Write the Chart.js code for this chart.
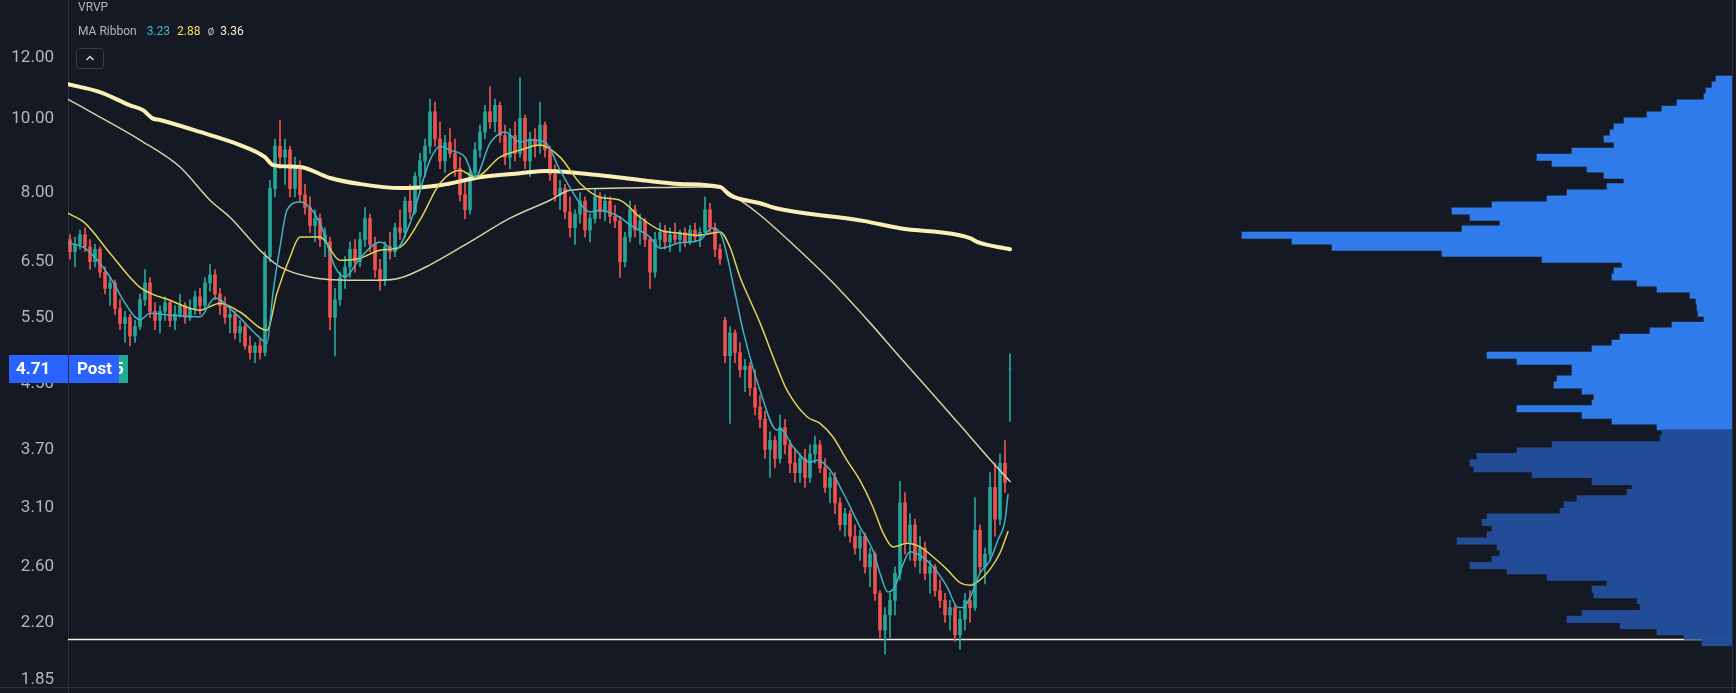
<!DOCTYPE html>
<html>
<head>
<meta charset="utf-8">
<title>VRVP / MA Ribbon</title>
<script src="https://cdn.jsdelivr.net/npm/chart.js@4.4.0/dist/chart.umd.min.js"></script>
<style>
    html, body { margin: 0; padding: 0; background: #151924; }
    canvas { display: block; }
</style>
</head>
<body>
<canvas id="price-chart" width="1736" height="693"></canvas>
<script>
// 价格轴刻度
const yTicks = [1.85, 2.2, 2.6, 3.1, 3.7, 4.5, 5.5, 6.5, 8, 10, 12];

// K线 [open, high, low, close]
const candles = [
    [6.95, 7.05, 6.55, 6.70], [6.70, 7.00, 6.40, 6.85], [6.85, 7.15, 6.75, 7.05], [7.05, 7.20, 6.70, 6.80],
    [6.80, 6.95, 6.35, 6.50], [6.50, 6.85, 6.40, 6.75], [6.75, 6.80, 6.20, 6.30], [6.30, 6.40, 5.90, 6.00],
    [6.00, 6.20, 5.70, 6.10], [6.10, 6.15, 5.55, 5.65], [5.65, 5.80, 5.30, 5.40], [5.40, 5.60, 5.10, 5.50],
    [5.50, 5.55, 5.05, 5.20], [5.20, 5.45, 5.10, 5.35], [5.35, 5.90, 5.30, 5.80], [5.80, 6.35, 5.70, 6.10],
    [6.10, 6.20, 5.50, 5.60], [5.60, 5.75, 5.30, 5.45], [5.45, 5.70, 5.25, 5.60], [5.60, 5.85, 5.45, 5.75],
    [5.75, 5.80, 5.35, 5.45], [5.45, 5.70, 5.30, 5.55], [5.55, 5.90, 5.50, 5.70], [5.70, 5.75, 5.40, 5.50],
    [5.50, 5.80, 5.45, 5.65], [5.65, 5.95, 5.55, 5.85], [5.85, 6.00, 5.55, 5.70], [5.70, 6.20, 5.65, 6.10],
    [6.10, 6.45, 5.95, 6.25], [6.25, 6.35, 5.80, 5.90], [5.90, 6.00, 5.55, 5.70], [5.70, 5.85, 5.40, 5.50],
    [5.50, 5.65, 5.25, 5.55], [5.55, 5.60, 5.15, 5.25], [5.25, 5.45, 5.10, 5.35], [5.35, 5.40, 5.00, 5.05],
    [5.05, 5.20, 4.85, 4.95], [4.95, 5.10, 4.80, 5.05], [5.05, 5.15, 4.85, 4.95], [4.95, 6.70, 4.90, 6.60],
    [6.60, 8.30, 6.50, 8.10], [8.10, 9.40, 7.90, 9.20], [9.20, 9.95, 8.60, 8.90], [8.90, 9.40, 8.20, 9.10],
    [9.10, 9.20, 7.90, 8.10], [8.10, 8.90, 7.90, 8.60], [8.60, 8.80, 7.80, 7.95], [7.95, 8.20, 7.50, 7.65],
    [7.65, 7.90, 7.10, 7.25], [7.25, 7.60, 6.90, 7.40], [7.40, 7.50, 6.80, 6.95], [6.95, 7.20, 6.60, 7.05],
    [6.90, 7.00, 5.30, 5.50], [5.50, 6.00, 4.90, 5.80], [5.80, 6.30, 5.70, 6.20], [6.20, 6.60, 6.00, 6.40],
    [6.40, 6.90, 6.20, 6.75], [6.75, 6.95, 6.30, 6.50], [6.50, 7.10, 6.40, 6.95], [6.95, 7.65, 6.80, 7.40],
    [7.40, 7.50, 6.70, 6.85], [6.85, 7.00, 6.20, 6.35], [6.35, 6.55, 5.97, 6.15], [6.15, 6.90, 6.05, 6.80],
    [6.80, 7.10, 6.55, 6.70], [6.70, 7.30, 6.60, 7.20], [7.20, 7.60, 6.95, 7.10], [7.10, 7.90, 7.00, 7.80],
    [7.80, 8.20, 7.40, 7.55], [7.55, 8.50, 7.50, 8.40], [8.40, 9.00, 8.10, 8.80], [8.80, 9.40, 8.40, 9.20],
    [9.20, 10.60, 9.00, 10.20], [10.20, 10.50, 9.20, 9.40], [9.40, 9.90, 8.60, 8.80], [8.80, 9.50, 8.50, 9.30],
    [9.30, 9.70, 8.90, 9.00], [9.00, 9.40, 8.40, 8.60], [8.60, 8.90, 7.80, 7.95], [7.95, 8.30, 7.40, 7.60],
    [7.60, 8.60, 7.50, 8.50], [8.50, 9.30, 8.40, 9.10], [9.10, 9.80, 8.90, 9.60], [9.60, 10.40, 9.40, 10.20],
    [10.20, 11.00, 9.70, 9.90], [9.90, 10.60, 9.60, 10.40], [10.40, 10.50, 9.30, 9.50], [9.50, 9.80, 8.70, 8.90],
    [8.90, 9.70, 8.60, 9.50], [9.50, 9.90, 8.80, 9.00], [9.00, 11.30, 8.90, 10.00], [10.00, 10.10, 8.60, 8.80],
    [8.80, 9.60, 8.40, 9.40], [9.40, 9.70, 8.90, 9.20], [9.20, 10.50, 9.00, 9.80], [9.80, 9.90, 8.90, 9.10],
    [9.10, 9.20, 8.30, 8.45], [8.45, 8.70, 7.80, 7.95], [7.95, 8.30, 7.60, 8.10], [8.10, 8.20, 7.40, 7.55],
    [7.55, 7.90, 7.00, 7.20], [7.20, 7.60, 6.85, 7.50], [7.50, 8.00, 7.30, 7.80], [7.80, 7.90, 7.00, 7.15],
    [7.15, 7.50, 6.90, 7.40], [7.40, 8.10, 7.30, 7.90], [7.90, 8.00, 7.40, 7.55], [7.55, 7.95, 7.35, 7.80],
    [7.80, 7.90, 7.30, 7.45], [7.45, 7.70, 7.20, 7.35], [7.35, 7.45, 6.20, 6.50], [6.50, 7.10, 6.40, 7.00],
    [7.00, 7.80, 6.90, 7.60], [7.60, 7.70, 7.00, 7.15], [7.15, 7.50, 6.85, 7.35], [7.35, 7.40, 6.80, 6.95],
    [6.95, 7.00, 6.00, 6.30], [6.30, 7.10, 6.20, 6.95], [6.95, 7.30, 6.80, 7.10], [7.10, 7.25, 6.75, 6.90],
    [6.90, 7.20, 6.70, 7.05], [7.05, 7.30, 6.85, 6.95], [6.95, 7.15, 6.70, 7.10], [7.10, 7.20, 6.80, 6.90],
    [6.90, 7.25, 6.85, 7.15], [7.15, 7.30, 6.90, 7.00], [7.00, 7.20, 6.80, 7.10], [7.10, 7.90, 7.05, 7.60],
    [7.60, 7.75, 7.10, 7.20], [7.20, 7.30, 6.60, 6.75], [6.75, 6.85, 6.45, 6.55], [5.45, 5.50, 4.80, 4.90],
    [4.90, 5.35, 4.00, 5.25], [5.25, 5.30, 4.80, 4.95], [4.95, 5.10, 4.60, 4.70], [4.70, 4.85, 4.40, 4.75],
    [4.75, 4.80, 4.35, 4.45], [4.45, 4.70, 4.10, 4.20], [4.20, 4.35, 3.95, 4.05], [4.05, 4.15, 3.60, 3.70],
    [3.70, 3.90, 3.40, 3.80], [3.80, 3.85, 3.50, 3.60], [3.60, 4.10, 3.55, 3.95], [3.95, 4.05, 3.65, 3.75],
    [3.75, 3.80, 3.45, 3.55], [3.55, 3.70, 3.35, 3.45], [3.45, 3.65, 3.35, 3.60], [3.60, 3.70, 3.30, 3.40],
    [3.40, 3.75, 3.35, 3.65], [3.65, 3.85, 3.55, 3.75], [3.75, 3.80, 3.45, 3.50], [3.50, 3.60, 3.25, 3.30],
    [3.30, 3.45, 3.15, 3.40], [3.40, 3.45, 3.05, 3.15], [3.15, 3.20, 2.90, 2.95], [2.95, 3.10, 2.85, 3.05],
    [3.05, 3.08, 2.80, 2.85], [2.85, 2.95, 2.70, 2.75], [2.75, 2.90, 2.65, 2.85], [2.85, 2.88, 2.55, 2.60],
    [2.60, 2.75, 2.45, 2.70], [2.70, 2.72, 2.35, 2.40], [2.40, 2.42, 2.10, 2.15], [2.15, 2.30, 2.00, 2.25],
    [2.25, 2.40, 2.10, 2.35], [2.35, 2.60, 2.25, 2.55], [2.55, 3.36, 2.50, 3.15], [3.15, 3.25, 2.70, 2.80],
    [2.80, 3.05, 2.65, 2.95], [2.95, 3.00, 2.60, 2.65], [2.65, 2.85, 2.55, 2.75], [2.75, 2.80, 2.50, 2.55],
    [2.55, 2.65, 2.40, 2.60], [2.60, 2.62, 2.38, 2.42], [2.42, 2.50, 2.30, 2.35], [2.35, 2.40, 2.20, 2.25],
    [2.25, 2.35, 2.15, 2.30], [2.30, 2.32, 2.08, 2.12], [2.12, 2.28, 2.03, 2.22], [2.22, 2.40, 2.15, 2.35],
    [2.35, 2.42, 2.20, 2.30], [2.30, 3.20, 2.28, 2.90], [2.90, 2.95, 2.55, 2.60], [2.60, 2.75, 2.47, 2.70],
    [2.70, 3.45, 2.65, 3.30], [3.30, 3.55, 2.85, 3.00], [3.00, 3.65, 2.95, 3.55], [3.55, 3.80, 3.25, 3.35],
    [4.71, 4.93, 4.02, 4.71]
];

// 均线带 [K线序号, 价格]
const maFast = [
    [-0.4, 6.88], [3, 6.77], [8, 6.21], [11, 5.74], [14, 5.46], [16, 5.57], [20, 5.54], [26, 5.51],
    [29, 5.83], [33, 5.57], [38, 5.17], [39.4, 5.09], [40.6, 5.92], [42, 6.79], [43.4, 7.59], [46, 7.78],
    [50, 7.30], [53, 6.40], [55, 6.21], [58, 6.57], [62, 6.90], [65, 6.73], [68, 7.30], [72, 8.82],
    [74, 9.20], [76, 9.09], [79, 8.90], [81, 8.38], [84, 9.28], [87, 9.60], [90, 9.31], [92, 9.37],
    [95, 9.31], [98, 8.56], [102, 7.75], [104, 7.55], [106, 7.59], [110, 7.43], [112, 7.26], [116, 7.00],
    [118, 6.77], [122, 6.88], [126, 6.94], [128.4, 7.19], [130.4, 7.00], [133, 5.92], [134.6, 5.29],
    [138, 4.42], [141.4, 3.92], [142, 3.94], [144.6, 3.73], [148, 3.56], [149.4, 3.58], [152, 3.48],
    [154.6, 3.25], [158, 2.93], [160.6, 2.73], [162, 2.55], [163.6, 2.41], [165, 2.45], [166.4, 2.60],
    [168, 2.72], [170, 2.69], [172.6, 2.60], [175.4, 2.45], [177.6, 2.30], [178.6, 2.30], [180, 2.37],
    [182, 2.55], [184, 2.65], [185.6, 2.82], [187, 2.99], [187.6, 3.23]
];
const maMid = [
    [-0.4, 7.52], [3, 7.30], [8, 6.67], [14, 6.02], [20, 5.79], [26, 5.62], [30, 5.74], [34, 5.59],
    [39.4, 5.29], [41.4, 5.92], [44, 6.59], [46, 7.00], [50, 7.00], [54, 6.53], [58, 6.57], [62, 6.73],
    [66, 6.79], [70, 7.37], [74, 8.23], [78, 8.56], [81, 8.38], [86, 8.90], [90, 9.09], [94, 9.23],
    [98, 8.90], [102, 8.23], [106, 7.89], [110, 7.82], [114, 7.43], [118, 7.15], [122, 7.08], [126, 7.04],
    [130, 7.11], [132, 6.79], [134, 6.21], [136, 5.79], [138, 5.41], [141.4, 4.74], [143.4, 4.42],
    [147.4, 4.08], [150, 4.00], [152.6, 3.84], [155.4, 3.58], [158, 3.37], [160.6, 3.11], [162.6, 2.88],
    [164.6, 2.76], [167.4, 2.79], [170, 2.76], [172.6, 2.68], [175.4, 2.58], [178, 2.48], [180, 2.46],
    [182, 2.50], [184, 2.58], [186, 2.71], [187.6, 2.89]
];
const maSlow = [
    [-0.4, 10.59], [6, 10.04], [14, 9.37], [22, 8.64], [28, 7.82], [32, 7.43], [38, 6.73], [42, 6.40],
    [48, 6.21], [56, 6.15], [62, 6.15], [66, 6.19], [72, 6.44], [80, 6.90], [88, 7.41], [96, 7.82],
    [100, 8.06], [110, 8.11], [126, 8.14], [130, 8.11], [134, 7.82], [138, 7.48], [145.2, 6.79],
    [152.4, 6.12], [160, 5.41], [166, 4.88], [172, 4.41], [178, 3.98], [184, 3.59], [188, 3.36]
];
const maLong = [
    [-0.4, 11.08], [6, 10.82], [12, 10.40], [14.6, 10.25], [16.5, 10.00], [18, 9.95], [26, 9.60],
    [34, 9.23], [39, 8.90], [40.6, 8.69], [46, 8.64], [52, 8.36], [58, 8.21], [66, 8.11], [74, 8.18],
    [82, 8.38], [90, 8.48], [95.4, 8.54], [106, 8.43], [114, 8.31], [122, 8.21], [130, 8.14], [132, 7.94],
    [138, 7.75], [141, 7.64], [158.6, 7.35], [166, 7.19], [180, 6.98], [181.4, 6.90], [188, 6.75]
];

// 成交量分布 (价格行, 成交量 千股)
const profilePrice = [
    11.25, 11.05, 10.85, 10.66, 10.47, 10.28, 10.10, 9.92, 9.74, 9.57, 9.40, 9.23, 9.06, 8.90, 8.74, 8.59,
    8.43, 8.28, 8.14, 7.99, 7.85, 7.71, 7.57, 7.43, 7.30, 7.17, 7.04, 6.92, 6.79, 6.67, 6.55, 6.44,
    6.32, 6.21, 6.10, 5.99, 5.88, 5.78, 5.67, 5.57, 5.47, 5.37, 5.28, 5.18, 5.09, 5.00, 4.91, 4.82,
    4.74, 4.65, 4.57, 4.49, 4.41, 4.33, 4.25, 4.18, 4.10, 4.03, 3.96, 3.89, 3.82, 3.75, 3.68, 3.62,
    3.55, 3.49, 3.43, 3.36, 3.30, 3.25, 3.19, 3.13, 3.07, 3.02, 2.97, 2.91, 2.86, 2.81, 2.76, 2.71,
    2.66, 2.61, 2.57, 2.52, 2.48, 2.43, 2.39, 2.35, 2.30, 2.26, 2.22, 2.18, 2.14, 2.11, 2.07
];
const profileVolume = [
    16, 20, 26, 28, 55, 70, 85, 108, 118, 122, 128, 118, 160, 195, 180, 145,
    128, 108, 125, 165, 185, 240, 280, 262, 232, 270, 490, 440, 400, 290, 190, 110,
    118, 120, 95, 75, 42, 36, 35, 34, 28, 60, 82, 112, 120, 140, 245, 215,
    160, 160, 175, 178, 150, 138, 140, 215, 150, 120, 75, 70, 72, 180, 215, 255,
    262, 258, 200, 140, 100, 105, 155, 168, 172, 245, 250, 240, 245, 275, 235, 232,
    240, 262, 225, 185, 125, 140, 138, 95, 92, 150, 165, 112, 75, 48, 30
];
const valueAreaLow = 3.9;

const supportLevel = 2.09;
const lastPrice = 4.71;
const legendValues = ['3.23', '2.88', '3.36'];

// 颜色
const BG = '#151924';
const UP = '#26a69a';
const DOWN = '#ef5350';
const TEXT = '#b2b5be';
const LINE = '#2a2e39';

// 布局
const PLOT_LEFT = 68;
const PLOT_RIGHT = 1732;
const BAR_STEP = 5;
const ROW_HEIGHT = 6.4;
const X_MIN = -0.4;
const X_MAX = X_MIN + (PLOT_RIGHT - PLOT_LEFT) / BAR_STEP;
const Y_MIN = 1.812;
const Y_MAX = 14.27;

const toXY = pts => pts.map(p => ({ x: p[0], y: p[1] }));

function maLine(points, color, width, order) {
    return {
        type: 'line',
        data: toXY(points),
        borderColor: color,
        borderWidth: width,
        pointRadius: 0,
        cubicInterpolationMode: 'monotone',
        borderCapStyle: 'round',
        borderJoinStyle: 'round',
        order: order
    };
}

/**
 * 背景、边框、图例和价格标签
 */
const overlay = {
    id: 'overlay',
    beforeDraw(chart) {
        const ctx = chart.ctx;
        ctx.save();
        ctx.fillStyle = BG;
        ctx.fillRect(0, 0, chart.width, chart.height);
        ctx.restore();
    },
    afterDraw(chart) {
        const ctx = chart.ctx;
        const area = chart.chartArea;
        ctx.save();

        // 边框
        ctx.strokeStyle = LINE;
        ctx.lineWidth = 1;
        ctx.beginPath();
        ctx.moveTo(0, area.bottom + 0.5);
        ctx.lineTo(chart.width, area.bottom + 0.5);
        ctx.moveTo(area.right + 0.5, 0);
        ctx.lineTo(area.right + 0.5, chart.height);
        ctx.moveTo(area.left + 0.5, area.bottom);
        ctx.lineTo(area.left + 0.5, chart.height);
        ctx.stroke();

        // 图例
        ctx.textBaseline = 'middle';
        ctx.textAlign = 'left';
        ctx.font = '12px Roboto';
        ctx.fillStyle = TEXT;
        ctx.fillText('VRVP', 78, 8);
        let x = 78;
        ctx.fillText('MA Ribbon', x, 32);
        x += ctx.measureText('MA Ribbon').width + 10;
        const legendColors = ['#3fb6cb', '#f2df5a', '#fbf0c0'];
        legendValues.forEach((v, i) => {
            if (i === 2) {
                ctx.fillStyle = TEXT;
                ctx.fillText('ø', x, 32);
                x += ctx.measureText('ø').width + 6;
            }
            ctx.fillStyle = legendColors[i];
            ctx.fillText(v, x, 32);
            x += ctx.measureText(v).width + 7;
        });

        // 折叠按钮
        ctx.strokeStyle = '#363a45';
        ctx.beginPath();
        ctx.roundRect(76.5, 48.5, 27, 20, 3);
        ctx.stroke();
        ctx.strokeStyle = '#d1d4dc';
        ctx.lineWidth = 1.5;
        ctx.beginPath();
        ctx.moveTo(86.5, 60);
        ctx.lineTo(90, 56.5);
        ctx.lineTo(93.5, 60);
        ctx.stroke();

        // 最新价格标签
        const py = Math.round(chart.scales.y.getPixelForValue(lastPrice));
        ctx.font = 'bold 17px Roboto';
        ctx.fillStyle = '#22ab94';
        ctx.fillRect(106, py - 14, 22, 28);
        ctx.fillStyle = '#ffffff';
        ctx.fillText('5', 114, py + 1);
        ctx.fillStyle = '#2962ff';
        ctx.fillRect(9, py - 14, 110, 28);
        ctx.fillStyle = '#ffffff';
        ctx.fillText(lastPrice.toFixed(2), 16, py + 1);
        ctx.fillText('Post', 77, py + 1);
        ctx.strokeStyle = LINE;
        ctx.lineWidth = 1;
        ctx.beginPath();
        ctx.moveTo(area.left + 0.5, py - 14);
        ctx.lineTo(area.left + 0.5, py + 14);
        ctx.stroke();

        ctx.restore();
    }
};

document.addEventListener('DOMContentLoaded', function() {
    Chart.defaults.font.family = 'Roboto';

    const candleColors = candles.map(c => (c[3] >= c[0] ? UP : DOWN));
    const profileColors = profilePrice.map(p => (p >= valueAreaLow ? '#2f7be9' : '#224c96'));

    new Chart(document.getElementById('price-chart'), {
        type: 'bar',
        data: {
            datasets: [
                {
                    type: 'line',
                    data: [{ x: X_MIN, y: supportLevel }, { x: X_MAX, y: supportLevel }],
                    borderColor: '#f4efd8',
                    borderWidth: 1.5,
                    pointRadius: 0,
                    order: 9
                },
                {
                    // 影线
                    data: candles.map((c, i) => ({ x: i, y: [c[2], c[1]] })),
                    backgroundColor: candleColors,
                    barThickness: 1,
                    grouped: false,
                    order: 8
                },
                {
                    // 实体
                    data: candles.map((c, i) => ({ x: i, y: [c[0], c[3]] })),
                    backgroundColor: candleColors,
                    barThickness: 3,
                    grouped: false,
                    order: 7
                },
                maLine(maSlow, '#d8d0a6', 1.5, 5),
                maLine(maLong, '#fcefb6', 4, 4),
                maLine(maMid, '#e2d255', 1.5, 3),
                maLine(maFast, '#3fb3c6', 1.5, 2),
                {
                    // 成交量分布
                    indexAxis: 'y',
                    xAxisID: 'xVol',
                    yAxisID: 'y',
                    data: profilePrice.map((p, i) => ({ x: profileVolume[i], y: p })),
                    backgroundColor: profileColors,
                    barThickness: ROW_HEIGHT,
                    grouped: false,
                    order: 1
                }
            ]
        },
        options: {
            responsive: false,
            animation: false,
            devicePixelRatio: 1,
            events: [],
            layout: { padding: { left: 0, right: 1736 - PLOT_RIGHT, top: 0, bottom: 6 } },
            plugins: {
                legend: { display: false },
                tooltip: { enabled: false }
            },
            scales: {
                x: {
                    type: 'linear',
                    min: X_MIN,
                    max: X_MAX,
                    offset: false,
                    display: false
                },
                xVol: {
                    type: 'linear',
                    axis: 'x',
                    reverse: true,
                    min: 0,
                    max: PLOT_RIGHT - PLOT_LEFT,
                    offset: false,
                    display: false
                },
                y: {
                    type: 'logarithmic',
                    position: 'left',
                    min: Y_MIN,
                    max: Y_MAX,
                    offset: false,
                    grid: { display: false, drawTicks: false },
                    border: { display: true, color: LINE, width: 1 },
                    ticks: {
                        autoSkip: false,
                        padding: 14,
                        color: TEXT,
                        font: { size: 17 },
                        callback: function(value) {
                            return Number(value).toFixed(2);
                        }
                    },
                    afterBuildTicks: function(scale) {
                        scale.ticks = yTicks.map(v => ({ value: v }));
                    },
                    afterFit: function(scale) {
                        scale.width = PLOT_LEFT;
                        scale.paddingTop = 0;
                        scale.paddingBottom = 0;
                    }
                }
            }
        },
        plugins: [overlay]
    });
});
</script>
</body>
</html>
